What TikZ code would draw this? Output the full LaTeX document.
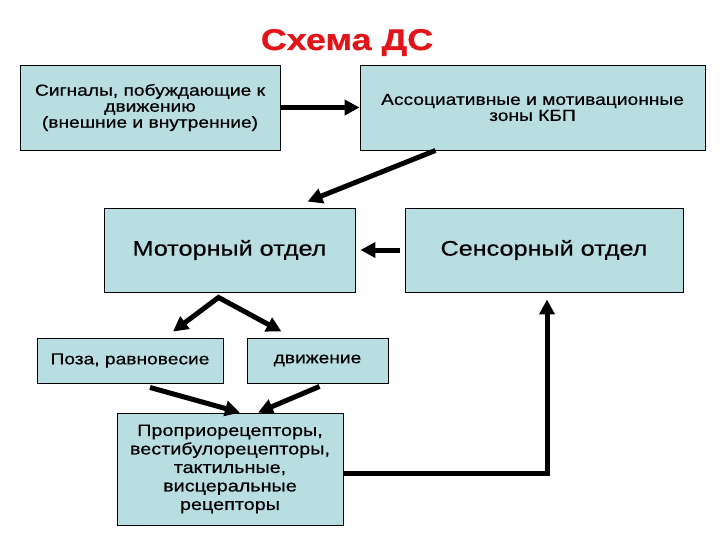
\documentclass[tikz,border=0pt]{standalone}
\usepackage{fontspec}
\setmainfont{Liberation Sans}[FakeStretch=1.2, FakeBold=0.6]
\usetikzlibrary{arrows.meta, calc, positioning}
\definecolor{boxcyan}{RGB}{185, 222, 226}
\definecolor{titlered}{RGB}{225, 20, 25}

\begin{document}
\begin{tikzpicture}[x=1pt, y=-1pt,
    block/.style={draw=black, line width=0.9pt, fill=boxcyan, inner sep=0pt,
      align=center, font=\fontsize{16}{16}\selectfont},
    bigblock/.style={block, font=\fontsize{21}{21}\selectfont},
    link/.style={line width=5pt, -{Triangle[length=15pt, width=15pt]}}]
  \useasboundingbox (0,0) rectangle (720,540);

  % Title
  \node[anchor=base, titlered, font=\fontsize{30}{30}\bfseries\selectfont]
    (title) at (347,50) {Схема ДС};

  % Top row
  \node[block, minimum width=260, minimum height=85] (sig) at (150,107.5)
    {Сигналы, побуждающие к\\движению\\(внешние и внутренние)};
  \node[block, minimum width=345, minimum height=85] (assoc) at (532.5,107.5)
    {Ассоциативные и мотивационные\\зоны КБП};

  % Middle row
  \node[bigblock, minimum width=251, minimum height=84] (motor) at (229.5,250)
    {Моторный отдел};
  \node[bigblock, minimum width=278, minimum height=84] (sensory) at (544,250)
    {Сенсорный отдел};

  % Motor outputs
  \node[block, minimum width=186, minimum height=45] (poza) at (130,360.5)
    {Поза, равновесие};
  \node[block, minimum width=141, minimum height=45] (dvizh) at (317.5,360.5)
    {движение};

  % Receptors
  \node[block, minimum width=226, minimum height=112,
    font=\fontsize{16.5}{18.5}\selectfont] (proprio) at (230,469)
    {Проприорецепторы,\\вестибулорецепторы,\\тактильные,\\висцеральные\\рецепторы};

  % Connectors
  \draw[link] (sig.east) -- (assoc.west);
  \draw[link] ($(assoc.south)+(-97,0)$) -- ($(motor.north)+(78,-6)$);
  \draw[link] ([xshift=-5pt]sensory.west) -- ([xshift=5pt]motor.east);

  % Fork below the motor block
  \coordinate (fork) at ($(motor.south)+(-11,5)$);
  \draw[link, {Triangle[length=15pt, width=15pt]}-{Triangle[length=15pt, width=15pt]}]
    ($(poza.north)+(43,-6)$) -- (fork) -- ($(dvizh.north)+(-36,-6)$);

  % Into the receptors and back up
  \draw[link] ($(poza.south)+(20,4)$) -- ($(proprio.north)+(10,0)$);
  \draw[link] ($(dvizh.south)+(2,3)$) -- ($(proprio.north)+(28,0)$);
  \draw[link] ([yshift=-4pt]proprio.east) -| ($(sensory.south)+(3,7)$);
\end{tikzpicture}
\end{document}
